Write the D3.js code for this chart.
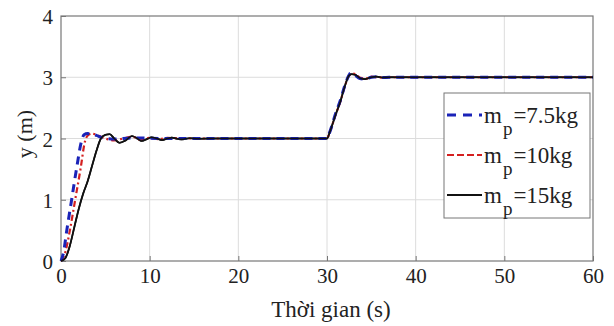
<!DOCTYPE html>
<html>
<head>
<meta charset="utf-8">
<script src="https://cdn.jsdelivr.net/npm/d3@7.9.0/dist/d3.min.js"></script>
<style>
  body { margin: 0; background: #fff; }
  svg text { font-family: "Liberation Serif", "Times New Roman", serif; }
</style>
</head>
<body>
<svg width="614" height="326"></svg>
<script>
// time (s) / y (m) samples
const t75 = [0, 0.3, 0.6, 1.2, 1.8, 2.3, 2.6, 3.0, 3.5, 4.0, 4.5, 5.0, 6.0, 8.0, 12, 20, 30,
  30.3, 31, 31.5, 32, 32.5, 32.7, 33.1, 33.7, 34.3, 35, 35.6, 36.3, 37, 45, 60];
const y75 = [0, 0.15, 0.45, 1.0, 1.55, 1.95, 2.06, 2.08, 2.07, 2.05, 2.02, 2.0, 1.99, 2.01, 2.0, 2.0, 2.0,
  2.1, 2.42, 2.62, 2.86, 3.04, 3.07, 3.04, 2.98, 2.97, 3.0, 3.01, 2.995, 3.0, 3.0, 3.0];

const t10 = [0, 0.5, 1.0, 1.6, 2.2, 2.7, 3.1, 3.5, 4.0, 4.5, 5.0, 6.0, 7.0, 8.0, 9.0, 10, 11, 12, 14, 20, 30,
  30.3, 31, 31.5, 32, 32.5, 32.8, 33.2, 33.8, 34.4, 35, 35.6, 36.3, 37, 45, 60];
const y10 = [0, 0.15, 0.5, 1.0, 1.5, 1.95, 2.06, 2.08, 2.06, 2.03, 2.0, 1.97, 2.0, 2.03, 1.98, 2.01, 1.99, 2.01, 2.0, 2.0, 2.0,
  2.1, 2.4, 2.6, 2.85, 3.03, 3.06, 3.05, 2.99, 2.98, 3.01, 3.0, 2.995, 3.0, 3.0, 3.0];

const t15 = [0, 0.5, 1.0, 1.5, 2.0, 2.5, 3.0, 3.5, 4.0, 4.5, 5.0, 5.5, 6.0, 6.6, 7.3, 8.0, 8.6, 9.1, 9.7, 10.2,
  10.8, 11.4, 12.0, 12.5, 13.0, 13.6, 14.5, 15.5, 17, 20, 30,
  30.3, 31, 31.5, 32, 32.5, 32.8, 33.2, 33.8, 34.3, 35, 35.6, 36.2, 37, 45, 60];
const y15 = [0, 0.05, 0.25, 0.55, 0.85, 1.1, 1.3, 1.55, 1.8, 2.0, 2.06, 2.07, 2.0, 1.93, 1.97, 2.04, 2.0, 1.96, 1.99, 2.02,
  2.0, 1.975, 2.0, 2.015, 2.0, 1.985, 2.005, 1.995, 2.0, 2.0, 2.0,
  2.1, 2.4, 2.6, 2.85, 3.03, 3.05, 3.04, 2.98, 2.97, 3.0, 3.01, 2.995, 3.0, 3.0, 3.0];

const legendLabels = ["=7.5kg", "=10kg", "=15kg"];
const xTicks = [0, 10, 20, 30, 40, 50, 60];
const yTicks = [0, 1, 2, 3, 4];

const svg = d3.select("svg");
const m = { left: 61, right: 593, top: 16, bottom: 261 };

const x = d3.scaleLinear().domain([0, 60]).range([m.left, m.right]);
const y = d3.scaleLinear().domain([0, 4]).range([m.bottom, m.top]);

// grid
svg.append("g").selectAll("line").data(xTicks.slice(1, -1)).join("line")
  .attr("x1", d => x(d)).attr("x2", d => x(d))
  .attr("y1", m.top).attr("y2", m.bottom)
  .attr("stroke", "#dcdcdc").attr("stroke-width", 1);
svg.append("g").selectAll("line").data(yTicks.slice(1, -1)).join("line")
  .attr("x1", m.left).attr("x2", m.right)
  .attr("y1", d => y(d)).attr("y2", d => y(d))
  .attr("stroke", "#dcdcdc").attr("stroke-width", 1);

// axes
const xAxis = svg.append("g").attr("transform", `translate(0,${m.bottom})`)
  .call(d3.axisBottom(x).tickValues(xTicks).tickFormat(d3.format("d")).tickSize(-5).tickPadding(7));
const yAxis = svg.append("g").attr("transform", `translate(${m.left},0)`)
  .call(d3.axisLeft(y).tickValues(yTicks).tickFormat(d3.format("d")).tickSize(-5).tickPadding(8));
[xAxis, yAxis].forEach(a => {
  a.attr("font-family", null).attr("font-size", null);
  a.select(".domain").remove();
  a.selectAll("line").attr("stroke", "#777");
  a.selectAll("text").attr("font-size", 21).attr("fill", "#222");
});
yAxis.selectAll("text").attr("dy", "0.36em");

svg.append("rect").attr("x", m.left).attr("y", m.top)
  .attr("width", m.right - m.left).attr("height", m.bottom - m.top)
  .attr("fill", "none").attr("stroke", "#777").attr("stroke-width", 1.2);

// curves
const line = d3.line().x(d => x(d[0])).y(d => y(d[1])).curve(d3.curveMonotoneX);
const series = [
  { t: t15, v: y15, color: "#111", width: 1.8, dash: null },
  { t: t10, v: y10, color: "#d42020", width: 2.2, dash: "6,3,2,3" },
  { t: t75, v: y75, color: "#1a23b8", width: 3, dash: "8,6" }
];
const plot = svg.append("g");
series.forEach(s => {
  plot.append("path")
    .datum(d3.zip(s.t, s.v))
    .attr("d", line)
    .attr("fill", "none")
    .attr("stroke", s.color)
    .attr("stroke-width", s.width)
    .attr("stroke-dasharray", s.dash);
});
// black drawn on top again so it dominates where curves overlap
plot.append("path").datum(d3.zip(t15, y15)).attr("d", line)
  .attr("fill", "none").attr("stroke", "#111").attr("stroke-width", 1.6);

// legend
const lg = svg.append("g").attr("transform", "translate(444,93)");
lg.append("rect").attr("width", 146).attr("height", 125)
  .attr("fill", "#fff").attr("stroke", "#777").attr("stroke-width", 1);
const items = [
  { color: "#1a23b8", width: 3, dash: "9,7" },
  { color: "#d42020", width: 2.2, dash: "7,3" },
  { color: "#111", width: 2, dash: null }
];
items.forEach((it, i) => {
  const cy = 22 + i * 40;
  lg.append("line").attr("x1", 3).attr("x2", 38)
    .attr("y1", cy).attr("y2", cy)
    .attr("stroke", it.color).attr("stroke-width", it.width)
    .attr("stroke-dasharray", it.dash);
  const tx = lg.append("text").attr("x", 40).attr("y", cy + 8)
    .attr("font-size", 23).attr("fill", "#222");
  tx.append("tspan").text("m");
  tx.append("tspan").attr("dy", 12).attr("dx", 1).attr("font-size", 19).text("p");
  tx.append("tspan").attr("dy", -12).attr("dx", 1).text(legendLabels[i]);
});

// axis titles
svg.append("text").attr("x", 331).attr("y", 317).attr("text-anchor", "middle")
  .attr("font-size", 23).attr("fill", "#222").text("Thời gian (s)");
svg.append("text").attr("transform", "translate(32,134) rotate(-90)")
  .attr("text-anchor", "middle").attr("font-size", 22).attr("fill", "#222").text("y (m)");
</script>
</body>
</html>
